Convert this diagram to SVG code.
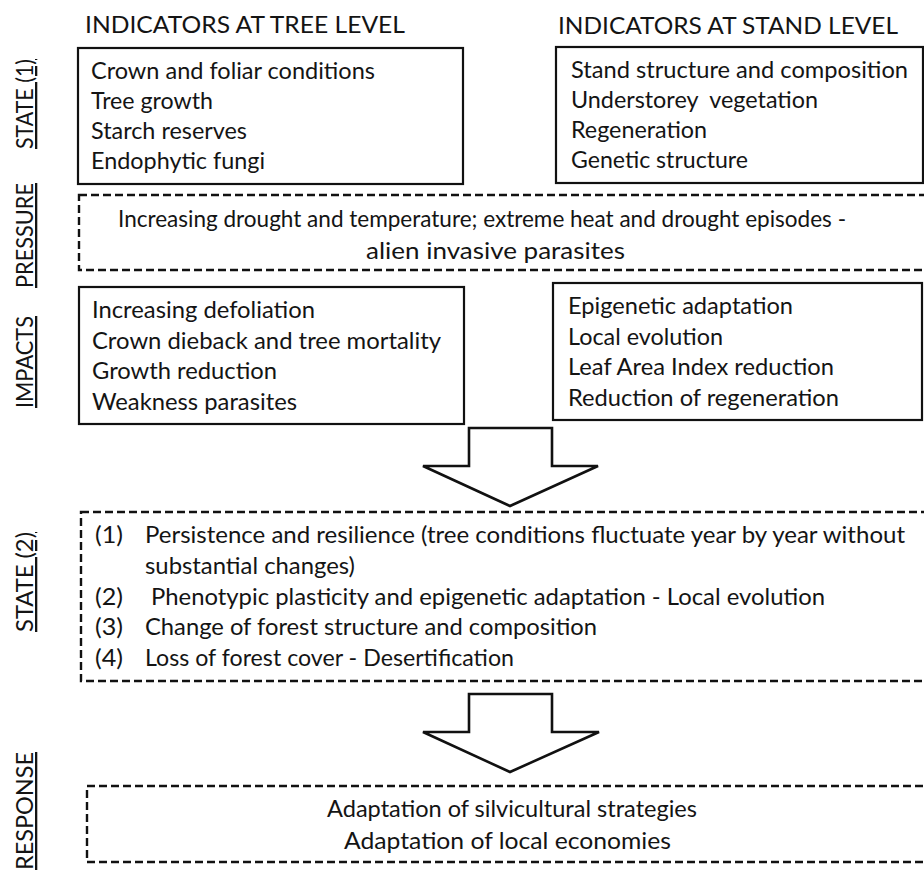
<svg xmlns="http://www.w3.org/2000/svg" width="924" height="877" viewBox="0 0 924 877">
<style>
text{font-family:Lato,"Open Sans","Liberation Sans",sans-serif;font-size:23px;fill:#141414}
.solid{fill:#fff;stroke:#111;stroke-width:2.2}
.dash{fill:none;stroke:#111;stroke-width:2.4;stroke-dasharray:8 4}
.arrow{fill:#fff;stroke:#111;stroke-width:2.6;stroke-linejoin:miter}
.lbl{text-decoration:underline}
</style>
<rect width="924" height="877" fill="#fff"/>
<g id="titles">
<text x="85" y="33" textLength="320" lengthAdjust="spacingAndGlyphs">INDICATORS AT TREE LEVEL</text>
<text x="558" y="34" textLength="340" lengthAdjust="spacingAndGlyphs">INDICATORS AT STAND LEVEL</text>
</g>
<g id="side-labels">
<text class="lbl" transform="translate(33,149) rotate(-90)" textLength="90" lengthAdjust="spacingAndGlyphs">STATE (1)</text>
<text class="lbl" transform="translate(33,288) rotate(-90)" textLength="105" lengthAdjust="spacingAndGlyphs">PRESSURE</text>
<text class="lbl" transform="translate(33,408) rotate(-90)" textLength="92" lengthAdjust="spacingAndGlyphs">IMPACTS</text>
<text class="lbl" transform="translate(33,632) rotate(-90)" textLength="100" lengthAdjust="spacingAndGlyphs">STATE (2)</text>
<text class="lbl" transform="translate(33,870) rotate(-90)" textLength="118" lengthAdjust="spacingAndGlyphs">RESPONSE</text>
</g>
<g id="state1-tree">
<rect class="solid" x="78" y="48" width="385" height="136"/>
<text x="91" y="79" textLength="284" lengthAdjust="spacingAndGlyphs">Crown and foliar conditions</text>
<text x="91" y="109" textLength="122" lengthAdjust="spacingAndGlyphs">Tree growth</text>
<text x="91" y="139" textLength="156" lengthAdjust="spacingAndGlyphs">Starch reserves</text>
<text x="91" y="169" textLength="174" lengthAdjust="spacingAndGlyphs">Endophytic fungi</text>
</g>
<g id="state1-stand">
<rect class="solid" x="556" y="47" width="367" height="136"/>
<text x="571" y="78" textLength="337" lengthAdjust="spacingAndGlyphs">Stand structure and composition</text>
<text x="571" y="108" xml:space="preserve" textLength="247" lengthAdjust="spacingAndGlyphs">Understorey  vegetation</text>
<text x="571" y="138" textLength="136" lengthAdjust="spacingAndGlyphs">Regeneration</text>
<text x="571" y="168" textLength="177" lengthAdjust="spacingAndGlyphs">Genetic structure</text>
</g>
<g id="pressure">
<rect class="dash" x="79" y="195" width="870" height="75"/>
<text x="118" y="227" textLength="728" lengthAdjust="spacingAndGlyphs">Increasing drought and temperature; extreme heat and drought episodes -</text>
<text x="366" y="259" textLength="259" lengthAdjust="spacingAndGlyphs">alien invasive parasites</text>
</g>
<g id="impacts-tree">
<rect class="solid" x="79" y="287" width="385" height="137"/>
<text x="92" y="318" textLength="223" lengthAdjust="spacingAndGlyphs">Increasing defoliation</text>
<text x="92" y="349" textLength="349" lengthAdjust="spacingAndGlyphs">Crown dieback and tree mortality</text>
<text x="92" y="379" textLength="185" lengthAdjust="spacingAndGlyphs">Growth reduction</text>
<text x="92" y="410" textLength="205" lengthAdjust="spacingAndGlyphs">Weakness parasites</text>
</g>
<g id="impacts-stand">
<rect class="solid" x="553" y="283" width="369" height="137"/>
<text x="568" y="314" textLength="225" lengthAdjust="spacingAndGlyphs">Epigenetic adaptation</text>
<text x="568" y="345" textLength="155" lengthAdjust="spacingAndGlyphs">Local evolution</text>
<text x="568" y="375" textLength="266" lengthAdjust="spacingAndGlyphs">Leaf Area Index reduction</text>
<text x="568" y="406" textLength="271" lengthAdjust="spacingAndGlyphs">Reduction of regeneration</text>
</g>
<g id="state2">
<rect class="dash" x="81" y="512" width="870" height="169"/>
<text x="95" y="543" textLength="28" lengthAdjust="spacingAndGlyphs">(1)</text>
<text x="145" y="543" textLength="760" lengthAdjust="spacingAndGlyphs">Persistence and resilience (tree conditions fluctuate year by year without</text>
<text x="145" y="574" textLength="210" lengthAdjust="spacingAndGlyphs">substantial changes)</text>
<text x="95" y="605" textLength="28" lengthAdjust="spacingAndGlyphs">(2)</text>
<text x="151" y="605" textLength="674" lengthAdjust="spacingAndGlyphs">Phenotypic plasticity and epigenetic adaptation - Local evolution</text>
<text x="95" y="635" textLength="28" lengthAdjust="spacingAndGlyphs">(3)</text>
<text x="145" y="635" textLength="452" lengthAdjust="spacingAndGlyphs">Change of forest structure and composition</text>
<text x="95" y="666" textLength="28" lengthAdjust="spacingAndGlyphs">(4)</text>
<text x="145" y="666" textLength="369" lengthAdjust="spacingAndGlyphs">Loss of forest cover - Desertification</text>
</g>
<g id="response">
<rect class="dash" x="87" y="786" width="860" height="76"/>
<text x="327" y="817" textLength="370" lengthAdjust="spacingAndGlyphs">Adaptation of silvicultural strategies</text>
<text x="344" y="849" textLength="327" lengthAdjust="spacingAndGlyphs">Adaptation of local economies</text>
</g>
<g id="connectors">
<polygon class="arrow" points="469,428 552,428 552,466 598,466 510,506 423,466 469,466"/>
<polygon class="arrow" points="469,694 552,694 552,732 599,732 510,772 423,732 469,732"/>
</g>
</svg>
